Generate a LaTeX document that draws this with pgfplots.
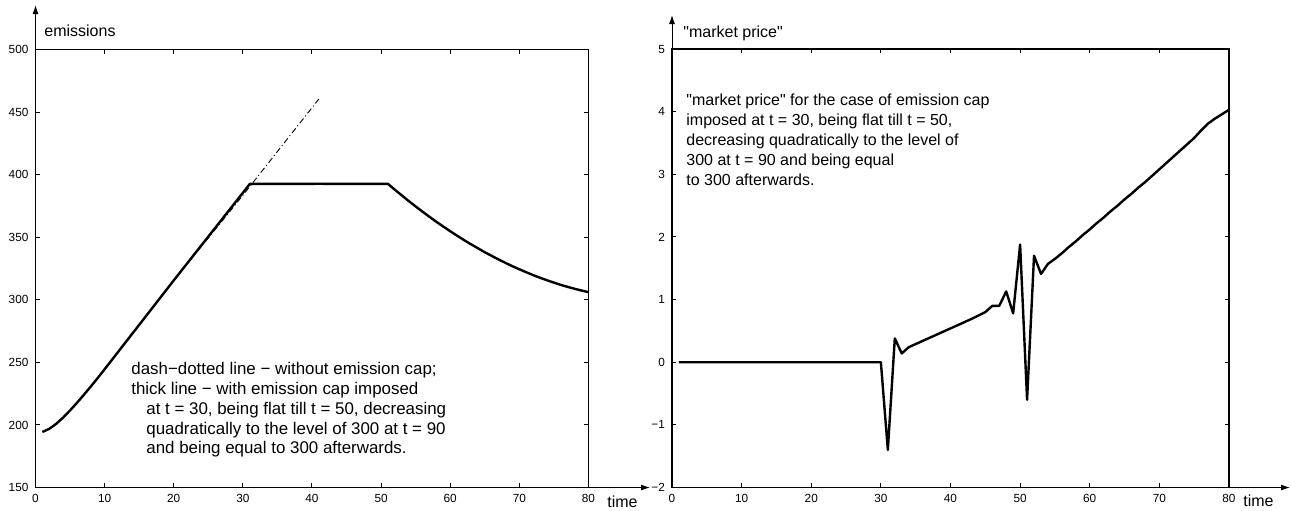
\documentclass[border=0pt]{standalone}
\usepackage{fontspec}
\setmainfont{Liberation Sans}[Ligatures=TeXOff]
\usepackage{pgfplots}
\pgfplotsset{compat=1.18}
\usetikzlibrary{arrows.meta}

\pgfplotsset{
  panel/.style={
    scale only axis,
    axis line style={line width=0.8pt},
    tick align=inside,
    tick style={line width=0.5pt, black},
    major tick length=2.2pt,
    xtick pos=both, ytick pos=both,
    tick label style={font=\fontsize{5.9}{6.5}\selectfont},
    xmin=0, xmax=80,
    xtick={0,10,...,80},
    xticklabels={0,10,20,30,40,50,60,70,80},
    clip=false,
  },
  curve/.style={black, line width=1.2pt, line join=round},
}

\begin{document}
\begin{tikzpicture}
\tikzset{lbl/.style={font=\fontsize{8}{10}\selectfont, anchor=base west, inner sep=0pt},
         note/.style={font=\fontsize{8.45}{10}\selectfont, anchor=base west, inner sep=0pt}}

% ---------------- emissions ----------------
\begin{axis}[panel,
  at={(17.75pt,-243.75pt)}, anchor=south west,
  width=276.5pt, height=219pt,
  ymin=150, ymax=500,
  ytick={150,200,...,500},
  yticklabels={150,200,250,300,350,400,450,500},
]
% without emission cap
\addplot[black, line width=0.45pt, dash pattern=on 3pt off 1.4pt on 0.5pt off 1.4pt]
coordinates {
(1,194.4)(2,196.9)(3,200.9)(4,205.9)(5,211.6)(6,217.7)(7,224.1)(8,230.7)(9,237.5)(10,244.5)
(11,251.6)(12,258.7)(13,265.8)(14,272.9)(15,280.0)(16,287.1)(17,294.2)(18,301.3)(19,308.4)(20,315.5)
(21,322.3)(22,329.0)(23,335.8)(24,342.6)(25,349.4)(26,356.2)(27,363.0)(28,369.8)(29,376.6)(30,383.5)
(31,390.5)(32,397.5)(33,404.5)(34,411.5)(35,418.5)(36,425.5)(37,432.5)(38,439.5)(39,446.5)(40,453.5)(41,460.5)
};
% with emission cap
\addplot[curve] coordinates {
(1,194.4)(2,196.9)(3,200.9)(4,205.9)(5,211.6)(6,217.7)(7,224.1)(8,230.7)(9,237.5)(10,244.5)
(11,251.6)(12,258.7)(13,265.8)(14,272.9)(15,280.0)(16,287.1)(17,294.2)(18,301.3)(19,308.4)(20,315.5)
(21,322.5)(22,329.5)(23,336.5)(24,343.5)(25,350.5)(26,357.5)(27,364.5)(28,371.5)(29,378.5)(30,385.5)
(31,392.6)(41,392.7)(51,392.6)
(52,387.9)(53,383.4)(54,378.9)(55,374.6)(56,370.4)(57,366.3)(58,362.3)(59,358.5)(60,354.8)
(61,351.2)(62,347.7)(63,344.4)(64,341.2)(65,338.0)(66,335.1)(67,332.2)(68,329.5)(69,326.8)(70,324.4)
(71,322.0)(72,319.7)(73,317.6)(74,315.6)(75,313.7)(76,311.9)(77,310.3)(78,308.8)(79,307.4)(80,306.1)
};
\end{axis}

% ---------------- market price ----------------
\begin{axis}[panel,
  at={(336pt,-243.75pt)}, anchor=south west,
  width=278.5pt, height=219.25pt,
  ymin=-2, ymax=5,
  ytick={-2,-1,...,5},
  yticklabels={−2,−1,0,1,2,3,4,5},
]
\addplot[curve] coordinates {
(1,0)(30,0)
(31,-1.40)(32,0.38)(33,0.14)(34,0.24)(35,0.29)(36,0.34)(37,0.39)(38,0.44)(39,0.49)(40,0.54)
(41,0.59)(42,0.64)(43,0.69)(44,0.745)(45,0.80)(46,0.90)(47,0.90)(48,1.13)(49,0.78)(50,1.88)
(51,-0.60)(52,1.70)(53,1.41)(54,1.57)(55,1.65)(56,1.74)(57,1.84)(58,1.93)(59,2.03)(60,2.12)
(61,2.22)(62,2.31)(63,2.41)(64,2.50)(65,2.60)(66,2.69)(67,2.79)(68,2.88)(69,2.98)(70,3.08)
(71,3.18)(72,3.28)(73,3.38)(74,3.48)(75,3.58)(76,3.70)(77,3.81)(78,3.89)(79,3.96)(80,4.03)
};
\end{axis}

% axis arrows
\draw[line width=0.5pt, -{Latex[length=4.5pt,width=3pt]}] (17.75pt,-24.75pt) -- (17.75pt,-2.5pt);
\draw[line width=0.5pt, -{Latex[length=4.5pt,width=3pt]}] (294.25pt,-243.75pt) -- (325pt,-243.75pt);
\draw[line width=0.5pt, -{Latex[length=4.5pt,width=3pt]}] (336pt,-24.5pt) -- (336pt,-7.5pt);
\draw[line width=0.5pt, -{Latex[length=4.5pt,width=3pt]}] (614.5pt,-243.75pt) -- (645pt,-243.75pt);

% axis names
\node[lbl] at (22pt,-18pt) {emissions};
\node[lbl] at (303.5pt,-253.5pt) {time};
\node[lbl] at (341.5pt,-18.5pt) {"market price"};
\node[lbl] at (621.5pt,-253pt) {time};

% notes
\node[note] at (65.5pt,-187pt) {dash−dotted line − without emission cap;};
\node[note] at (65.5pt,-197pt) {thick line − with emission cap imposed};
\node[note] at (73pt,-207pt) {at t = 30, being flat till t = 50, decreasing};
\node[note] at (73pt,-217pt) {quadratically to the level of 300 at t = 90};
\node[note] at (73pt,-226.5pt) {and being equal to 300 afterwards.};

\node[lbl] at (343pt,-52.5pt) {"market price" for the case of emission cap};
\node[lbl] at (343pt,-62.5pt) {imposed at t = 30, being flat till t = 50,};
\node[lbl] at (343pt,-72.5pt) {decreasing quadratically to the level of};
\node[lbl] at (343pt,-82.5pt) {300 at t = 90 and being equal};
\node[lbl] at (343pt,-92.5pt) {to 300 afterwards.};

\pgfresetboundingbox
\path[use as bounding box] (0,0) rectangle (645.5pt,-255pt);
\end{tikzpicture}
\end{document}
